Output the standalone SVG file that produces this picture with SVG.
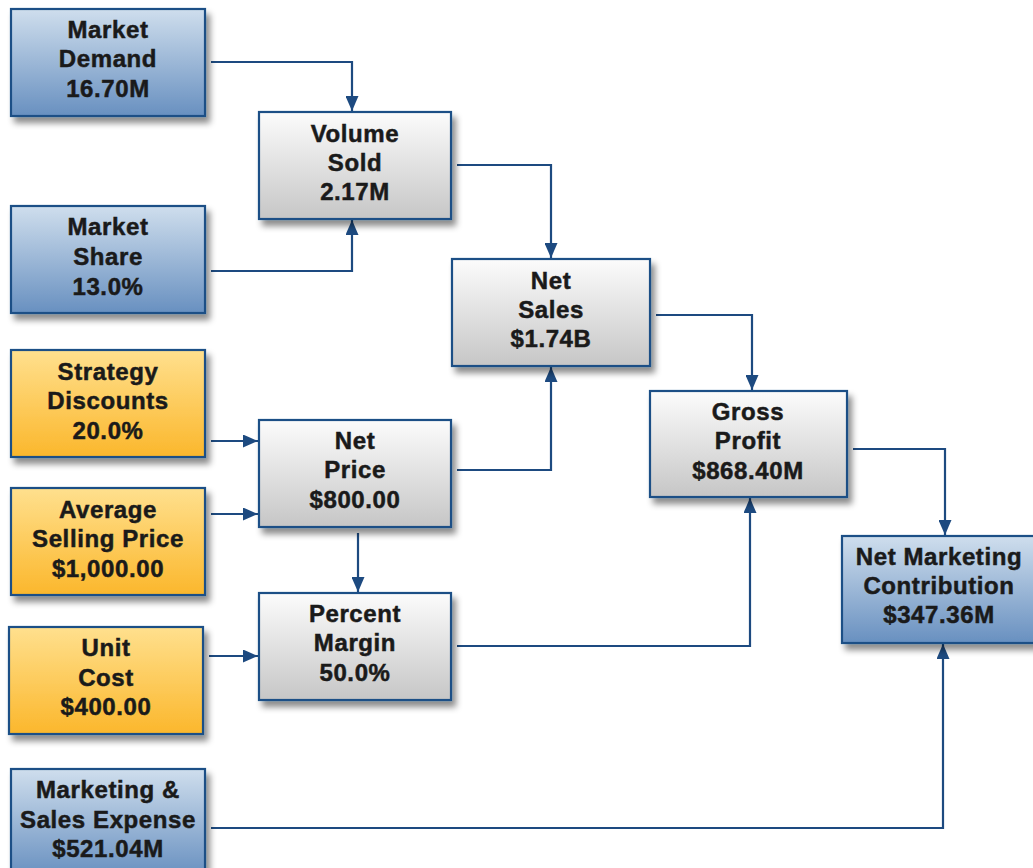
<svg xmlns="http://www.w3.org/2000/svg" width="1033" height="868" viewBox="0 0 1033 868">
<style>
.box{stroke:#1f4f86;stroke-width:2.2;filter:url(#sh)}
.blue{fill:url(#gBlue)}
.gray{fill:url(#gGray)}
.orange{fill:url(#gOrange)}
.t{font-family:"Liberation Sans",Arial,sans-serif;font-weight:bold;font-size:24px;letter-spacing:0.6px;fill:#1a1a1a;stroke:#1a1a1a;stroke-width:0.5;text-anchor:middle}
.c{fill:none;stroke:#1d4a80;stroke-width:2.2;marker-end:url(#arr)}
</style>
<defs>
<linearGradient id="gBlue" x1="0" y1="0" x2="0" y2="1">
<stop offset="0" stop-color="#cfdeed"/>
<stop offset="1" stop-color="#6890c0"/>
</linearGradient>
<linearGradient id="gGray" x1="0" y1="0" x2="0" y2="1">
<stop offset="0" stop-color="#fcfcfc"/>
<stop offset="1" stop-color="#c6c6c6"/>
</linearGradient>
<linearGradient id="gOrange" x1="0" y1="0" x2="0" y2="1">
<stop offset="0" stop-color="#ffe08e"/>
<stop offset="1" stop-color="#fbb72c"/>
</linearGradient>
<filter id="sh" x="-10%" y="-10%" width="130%" height="140%">
<feDropShadow dx="4" dy="6" stdDeviation="3" flood-color="#000" flood-opacity="0.45"/>
</filter>
<marker id="arr" viewBox="0 0 15 13" refX="15" refY="6.5" markerWidth="15" markerHeight="13" markerUnits="userSpaceOnUse" orient="auto">
<path d="M0,0 L15,6.5 L0,13 Z" fill="#1d4a80"/>
</marker>
</defs>
<rect width="1033" height="868" fill="#ffffff"/>
<g id="connectors">
<path class="c" d="M211,62 H352 V111"/>
<path class="c" d="M211,271 H352 V220"/>
<path class="c" d="M457,165 H551 V258"/>
<path class="c" d="M457,470 H551 V367"/>
<path class="c" d="M656,315 H752 V390"/>
<path class="c" d="M457,646 H750 V498"/>
<path class="c" d="M853,449 H945 V535"/>
<path class="c" d="M211,828 H943 V644"/>
<path class="c" d="M211,441 H258"/>
<path class="c" d="M211,514 H258"/>
<path class="c" d="M358,533 V592"/>
<path class="c" d="M209,656 H258"/>
</g>
<g id="market-demand">
<rect class="box blue" x="11" y="9" width="194" height="107"/>
<text class="t" x="108" y="38">Market</text>
<text class="t" x="108" y="67">Demand</text>
<text class="t" x="108" y="97">16.70M</text>
</g>
<g id="volume-sold">
<rect class="box gray" x="259" y="112" width="192" height="107"/>
<text class="t" x="355" y="142">Volume</text>
<text class="t" x="355" y="171">Sold</text>
<text class="t" x="355" y="200">2.17M</text>
</g>
<g id="market-share">
<rect class="box blue" x="11" y="206" width="194" height="107"/>
<text class="t" x="108" y="235">Market</text>
<text class="t" x="108" y="265">Share</text>
<text class="t" x="108" y="295">13.0%</text>
</g>
<g id="net-sales">
<rect class="box gray" x="452" y="259" width="198" height="107"/>
<text class="t" x="551" y="289">Net</text>
<text class="t" x="551" y="318">Sales</text>
<text class="t" x="551" y="347">$1.74B</text>
</g>
<g id="strategy-discounts">
<rect class="box orange" x="11" y="350" width="194" height="107"/>
<text class="t" x="108" y="380">Strategy</text>
<text class="t" x="108" y="409">Discounts</text>
<text class="t" x="108" y="439">20.0%</text>
</g>
<g id="net-price">
<rect class="box gray" x="259" y="420" width="192" height="107"/>
<text class="t" x="355" y="449">Net</text>
<text class="t" x="355" y="478">Price</text>
<text class="t" x="355" y="508">$800.00</text>
</g>
<g id="gross-profit">
<rect class="box gray" x="650" y="391" width="197" height="106"/>
<text class="t" x="748" y="420">Gross</text>
<text class="t" x="748" y="449">Profit</text>
<text class="t" x="748" y="479">$868.40M</text>
</g>
<g id="average-selling-price">
<rect class="box orange" x="11" y="488" width="194" height="107"/>
<text class="t" x="108" y="518">Average</text>
<text class="t" x="108" y="547">Selling Price</text>
<text class="t" x="108" y="577">$1,000.00</text>
</g>
<g id="percent-margin">
<rect class="box gray" x="259" y="593" width="192" height="107"/>
<text class="t" x="355" y="622">Percent</text>
<text class="t" x="355" y="651">Margin</text>
<text class="t" x="355" y="681">50.0%</text>
</g>
<g id="net-marketing-contribution">
<rect class="box blue" x="842" y="536" width="200" height="107"/>
<text class="t" x="939" y="565">Net Marketing</text>
<text class="t" x="939" y="594">Contribution</text>
<text class="t" x="939" y="623">$347.36M</text>
</g>
<g id="unit-cost">
<rect class="box orange" x="9" y="627" width="194" height="107"/>
<text class="t" x="106" y="656">Unit</text>
<text class="t" x="106" y="686">Cost</text>
<text class="t" x="106" y="715">$400.00</text>
</g>
<g id="marketing-sales-expense">
<rect class="box blue" x="11" y="769" width="194" height="107"/>
<text class="t" x="108" y="798">Marketing &amp;</text>
<text class="t" x="108" y="828">Sales Expense</text>
<text class="t" x="108" y="857">$521.04M</text>
</g>
</svg>
